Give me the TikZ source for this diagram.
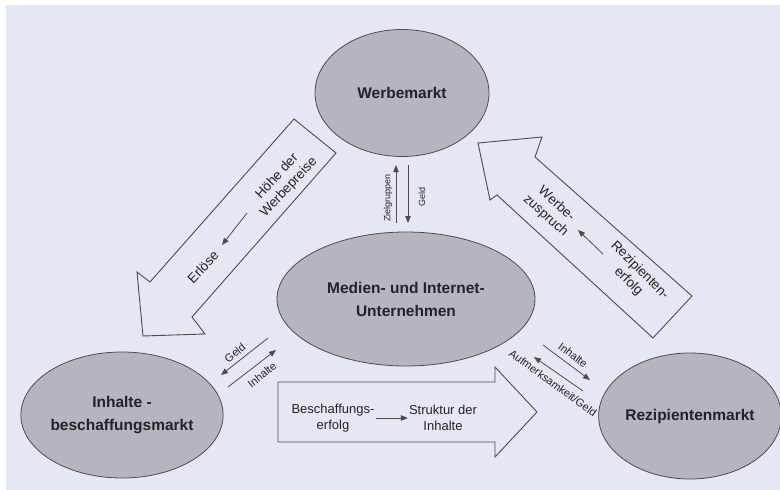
\documentclass[tikz,border=0pt]{standalone}
\usepackage{fontspec}
\setmainfont{Liberation Sans}
\usepackage{tikz}
\usetikzlibrary{shapes.geometric,arrows.meta}
\usepackage{xcolor}
\definecolor{page-blue}{RGB}{229,232,243}
\definecolor{market-grey}{RGB}{180,181,191}
\definecolor{line-grey}{RGB}{75,75,80}
\definecolor{text-grey}{RGB}{35,35,38}
\tikzstyle{market}=[ellipse, draw=line-grey, fill=market-grey, line width=0.8pt, inner sep=0pt, align=center, text=text-grey, font=\fontsize{15.5}{23}\selectfont\bfseries]
\tikzstyle{bigarrow}=[draw=line-grey, line width=0.9pt, line join=miter]
\tikzstyle{flow}=[draw=line-grey, line width=0.8pt, -{Triangle[length=7pt,width=5.5pt]}]
\tikzstyle{lbl}=[align=center, inner sep=1pt, text=text-grey, font=\fontsize{13.5}{16}\selectfont]
\tikzstyle{small}=[inner sep=1pt, text=text-grey, font=\fontsize{11}{12}\selectfont]
\tikzstyle{tiny}=[inner sep=1pt, text=text-grey, font=\fontsize{9}{10}\selectfont]
\begin{document}
\begin{tikzpicture}[x=1pt,y=-1pt]
	\useasboundingbox (0,0) rectangle (780,490);
	\fill[white] (0,0) rectangle (780,490);
	\fill[page-blue] (6,5) rectangle (780,490);
	\draw[bigarrow] (294,119) -- (336,153) -- (192,317) -- (205,334) -- (143,336) -- (137,272) -- (150,282) -- cycle;
	\draw[bigarrow] (478,143) -- (542,137) -- (535,157) -- (692,296) -- (653,338) -- (497,195) -- (490,200) -- cycle;
	\draw[bigarrow] (278,382) -- (495,382) -- (495,367) -- (537,412) -- (495,457) -- (495,442) -- (278,442) -- cycle;
	\node[market, minimum width=174pt, minimum height=127pt] (werbe) at (402,93) {Werbemarkt};
	\node[market, minimum width=258pt, minimum height=134pt] (medien) at (406,299) {Medien- und Internet-\\Unternehmen};
	\node[market, minimum width=174pt, minimum height=126pt] (inhalte) at (122,415) {Inhalte -\\beschaffungsmarkt};
	\node[market, minimum width=176pt, minimum height=126pt] (rezip) at (690,416) {Rezipientenmarkt};
	\coordinate (zg-a) at (396,223);
	\coordinate (zg-b) at (396,165);
	\coordinate (gd-a) at (408,165);
	\coordinate (gd-b) at (408,223);
	\draw[flow] (zg-a) -- (zg-b);
	\draw[flow] (gd-a) -- (gd-b);
	\node[tiny, rotate=90] (zg) at (388,198) {Zielgruppen};
	\node[tiny, rotate=90] (gd) at (422,197) {Geld};
	\node[lbl, rotate=47] (hoehe) at (283,182) {Höhe der\\Werbepreise};
	\coordinate (er-a) at (247,213);
	\coordinate (er-b) at (222,245);
	\draw[flow] (er-a) -- (er-b);
	\node[lbl, rotate=47] (erloese) at (203,267) {Erlöse};
	\node[lbl, rotate=-42] (werbez) at (551,210) {Werbe-\\zuspruch};
	\coordinate (wz-a) at (603,254);
	\coordinate (wz-b) at (578,230);
	\draw[flow] (wz-a) -- (wz-b);
	\node[lbl, rotate=-45] (rezerf) at (634,276) {Rezipienten-\\erfolg};
	\coordinate (ig-a) at (268,338);
	\coordinate (ig-b) at (221,375);
	\coordinate (ii-a) at (228,387);
	\coordinate (ii-b) at (276,350);
	\draw[flow] (ig-a) -- (ig-b);
	\draw[flow] (ii-a) -- (ii-b);
	\node[small, rotate=39] (igeld) at (235,353) {Geld};
	\node[small, rotate=39] (iinh) at (262,375) {Inhalte};
	\coordinate (ri-a) at (543,345);
	\coordinate (ri-b) at (590,380);
	\coordinate (ra-a) at (583,391);
	\coordinate (ra-b) at (534,357);
	\draw[flow] (ri-a) -- (ri-b);
	\draw[flow] (ra-a) -- (ra-b);
	\node[small, rotate=-37] (rinh) at (573,355) {Inhalte};
	\node[small, rotate=-36] (rauf) at (553,383) {Aufmerksamkeit/Geld};
	\node[lbl, font=\fontsize{13}{15.5}\selectfont] (beschaff) at (333,418) {Beschaffungs-\\erfolg};
	\node[lbl, font=\fontsize{13}{15.5}\selectfont] (struktur) at (443,418) {Struktur der\\Inhalte};
	\draw[flow] (beschaff.east) -- (struktur.west);
\end{tikzpicture}
\end{document}
